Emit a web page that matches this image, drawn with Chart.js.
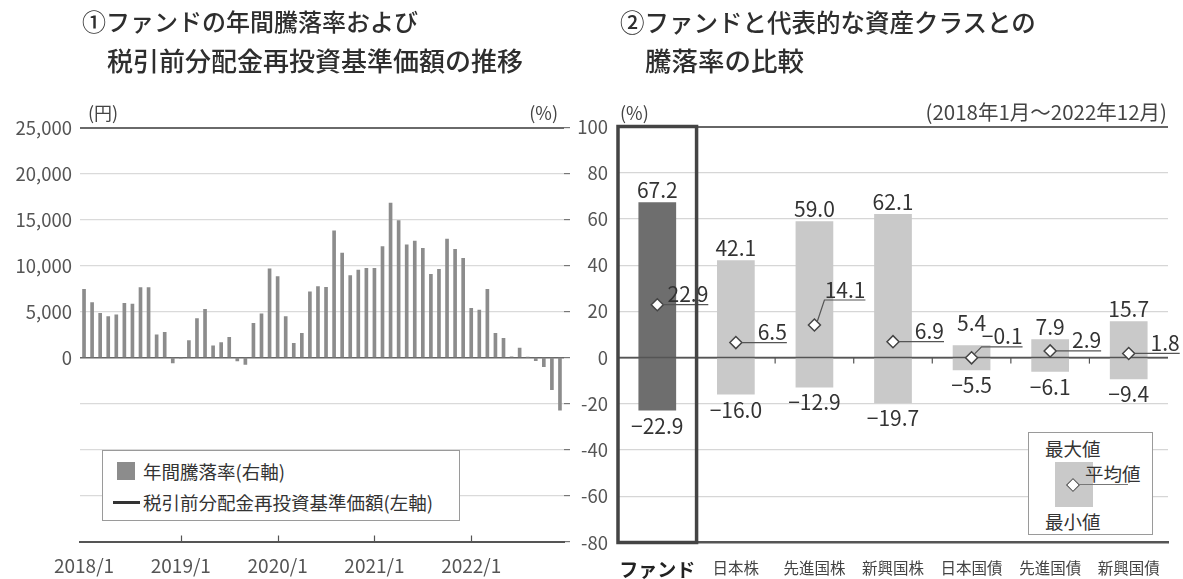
<!DOCTYPE html>
<html lang="ja">
<head>
<meta charset="utf-8">
<script src="https://cdn.jsdelivr.net/npm/chart.js@4.4.1/dist/chart.umd.min.js"></script>
<style>
  html, body { margin: 0; padding: 0; background: #fff; }
  #page { position: relative; width: 1183px; height: 579px; overflow: hidden;
          font-family: "Noto Sans CJK JP", "Noto Sans", sans-serif; color: #333; }
  #page canvas { position: absolute; top: 0; }
  .t { position: absolute; white-space: nowrap; line-height: 1; }
  .title { font-weight: 500; color: #2e2e2e; }
  .unit { font-size: 18px; color: #444; }
  .legend { position: absolute; background: #fff; border: 1px solid #9a9a9a; box-sizing: border-box; }
  .lg { font-size: 18.5px; color: #333; }
</style>
</head>
<body>
<div id="page">
  <canvas id="trend" width="590" height="579" style="left:0"></canvas>
  <canvas id="compare" width="623" height="579" style="left:560px"></canvas>

  <div class="t title" style="left:82px;top:9px;font-size:24px">①ファンドの年間騰落率および</div>
  <div class="t title" style="left:107px;top:47px;font-size:26px">税引前分配金再投資基準価額の推移</div>
  <div class="t title" style="left:620px;top:10px;font-size:24.5px">②ファンドと代表的な資産クラスとの</div>
  <div class="t title" style="left:645px;top:47px;font-size:26.5px">騰落率の比較</div>

  <div class="t unit" style="left:88px;top:103px">(円)</div>
  <div class="t unit" style="right:625px;top:103px">(%)</div>
  <div class="t unit" style="left:620px;top:103px">(%)</div>
  <div class="t unit" style="right:16px;top:101px;font-size:20.5px">(2018年1月～2022年12月)</div>

  <div class="legend" style="left:102px;top:450px;width:358px;height:71px">
    <div style="position:absolute;left:14px;top:11px;width:18px;height:18px;background:#8c8c8c"></div>
    <div class="t lg" style="left:40px;top:11px">年間騰落率(右軸)</div>
    <div style="position:absolute;left:10px;top:50px;width:27px;height:3px;background:#333"></div>
    <div class="t lg" style="left:40px;top:42px">税引前分配金再投資基準価額(左軸)</div>
  </div>

  <div class="legend" style="left:1028px;top:432px;width:125px;height:103px">
    <div class="t lg" style="left:16px;top:6px">最大値</div>
    <div style="position:absolute;left:26px;top:29px;width:38px;height:45px;background:#c9c9c9"></div>
    <div style="position:absolute;left:50px;top:51px;width:49px;height:1px;background:#777"></div>
    <div style="position:absolute;left:39px;top:47px;width:8px;height:8px;background:#fff;border:1.5px solid #444;transform:rotate(45deg)"></div>
    <div class="t lg" style="left:56px;top:31px">平均値</div>
    <div class="t lg" style="left:16px;top:79px">最小値</div>
  </div>
</div>

<script>
const FONT = '"Noto Sans CJK JP", "Noto Sans", sans-serif';

// ---- chart 1: monthly 1-year return of the fund ----
const years = [2018, 2019, 2020, 2021, 2022];
const months = years.flatMap(yr => Array.from({ length: 12 }, (_, m) => `${yr}/${m + 1}`));

const annualReturn = [
    29.7, 23.9, 19.3, 17.8, 18.6, 23.6, 23.3, 30.4, 30.4, 9.9, 11.0, -2.3,
    -0.3, 7.4, 17.0, 21.0, 5.1, 6.5, 8.8, -1.5, -3.0, 14.9, 19.0, 38.6,
    35.2, 17.8, 6.2, 10.6, 28.6, 30.9, 30.6, 55.1, 45.5, 35.7, 38.1, 38.8,
    38.8, 48.3, 67.2, 59.6, 49.0, 50.7, 47.5, 36.2, 38.4, 51.6, 47.1, 43.2,
    21.4, 20.7, 29.7, 10.6, 8.4, 0.3, 4.1, 0.2, -1.3, -3.9, -14.0, -22.9
];

// ---- chart 2: fund vs asset classes ----
const assetClasses = ['ファンド', '日本株', '先進国株', '新興国株', '日本国債', '先進国債', '新興国債'];
const maxReturn = [67.2, 42.1, 59.0, 62.1, 5.4, 7.9, 15.7];
const meanReturn = [22.9, 6.5, 14.1, 6.9, -0.1, 2.9, 1.8];
const minReturn = [-22.9, -16.0, -12.9, -19.7, -5.5, -6.1, -9.4];

// label placement tweaks (pixels), not data
const meanLabelRise = [0, 0, 25, 0, 11, 0, 0];
const maxLabelLift = [0, 0, 0, 0, 10, 0, 0];

const fmt = v => (v < 0 ? '\u2212' : '') + Math.abs(v).toFixed(1);

const yearTicks = {
    id: 'yearTicks',
    afterDraw(chart) {
        const { ctx, chartArea, scales: { x } } = chart;
        ctx.save();
        ctx.strokeStyle = '#555';
        ctx.lineWidth = 1.2;
        months.forEach((m, i) => {
            if (i === 0 || !m.endsWith('/1')) return;
            const px = Math.round(x.getPixelForValue(i)) + 0.5;
            ctx.beginPath();
            ctx.moveTo(px, chartArea.bottom);
            ctx.lineTo(px, chartArea.bottom - 6);
            ctx.stroke();
        });
        ctx.restore();
    }
};

new Chart(document.getElementById('trend'), {
    type: 'bar',
    data: {
        labels: months,
        datasets: [{ label: '年間騰落率(右軸)', data: annualReturn, yAxisID: 'y1', backgroundColor: '#8c8c8c', barThickness: 3 }]
    },
    options: {
        responsive: false,
        animation: false,
        layout: { padding: { top: 127.7, right: 20, bottom: 0, left: 0 } },
        plugins: { legend: { display: false }, tooltip: { enabled: false } },
        scales: {
            x: {
                grid: { display: false, drawTicks: false },
                border: { color: '#555', width: 2 },
                ticks: {
                    autoSkip: false, maxRotation: 0, padding: 13, color: '#555',
                    font: { family: FONT, size: 19 },
                    callback: (v, i) => months[i].endsWith('/1') ? months[i] : ''
                },
                afterFit: s => { s.height = 37.5; }
            },
            y: {
                position: 'left', min: -20000, max: 25000,
                ticks: {
                    stepSize: 5000, padding: 8, color: '#555',
                    font: { family: FONT, size: 18.5 },
                    callback: v => v < 0 ? '' : v.toLocaleString('en-US')
                },
                grid: {
                    drawTicks: false,
                    color: c => c.tick.value === 25000 ? '#6a6a6a' : c.tick.value <= -20000 ? '#555' : c.tick.value === 0 ? '#666' : '#dadada',
                    lineWidth: c => c.tick.value === 25000 ? 2 : c.tick.value === 0 ? 1.5 : c.tick.value <= -20000 ? 2 : 1.2
                },
                border: { display: false },
                afterFit: s => { s.width = 80; }
            },
            y1: {
                position: 'right', min: -80, max: 100,
                ticks: { stepSize: 20, display: false },
                grid: { drawOnChartArea: false, tickLength: 6, color: '#777', lineWidth: 1.2 },
                border: { display: false },
                afterFit: s => { s.width = 6; }
            }
        }
    },
    plugins: [yearTicks]
});

const compareLabels = {
    id: 'compareLabels',
    afterDatasetDraw(chart, args) {
        if (args.index !== 0) return;
        // zero line over the bars but under the diamonds
        const { ctx, chartArea: a, scales: { x, y } } = chart;
        const y0 = y.getPixelForValue(0);
        const half = (x.getPixelForValue(1) - x.getPixelForValue(0)) / 2;
        ctx.save();
        ctx.strokeStyle = '#555';
        ctx.lineWidth = 1.5;
        ctx.beginPath();
        ctx.moveTo(a.left, y0);
        ctx.lineTo(a.right, y0);
        ctx.stroke();
        ctx.lineWidth = 1.2;
        for (let i = 1; i < assetClasses.length; i++) {
            const px = x.getPixelForValue(i) - half;
            ctx.beginPath();
            ctx.moveTo(px, y0);
            ctx.lineTo(px, y0 + 6);
            ctx.stroke();
        }
        ctx.restore();
    },
    afterDatasetsDraw(chart) {
        const { ctx, scales: { x, y } } = chart;
        ctx.save();
        ctx.font = `21px ${FONT}`;
        ctx.fillStyle = '#333';
        ctx.strokeStyle = '#555';
        ctx.lineWidth = 1.2;
        ctx.textBaseline = 'alphabetic';
        assetClasses.forEach((c, i) => {
            const px = x.getPixelForValue(i);
            ctx.textAlign = 'center';
            ctx.fillText(fmt(maxReturn[i]), px, y.getPixelForValue(maxReturn[i]) - 4 - maxLabelLift[i]);
            ctx.fillText(fmt(minReturn[i]), px, y.getPixelForValue(minReturn[i]) + 23);

            const my = y.getPixelForValue(meanReturn[i]);
            const ly = my - meanLabelRise[i];
            ctx.beginPath();
            if (meanLabelRise[i]) {
                ctx.moveTo(px + 3, my - 4);
                ctx.lineTo(px + 10, ly);
            } else {
                ctx.moveTo(px + 6, ly);
            }
            ctx.lineTo(px + 51, ly);
            ctx.stroke();
            ctx.textAlign = 'right';
            ctx.fillText(fmt(meanReturn[i]), px + 51, ly - 2.5);
        });
        ctx.restore();
    },
    afterDraw(chart) {
        // frame around the fund column
        const { ctx, chartArea: a, scales: { x } } = chart;
        const right = (x.getPixelForValue(0) + x.getPixelForValue(1)) / 2;
        ctx.save();
        ctx.strokeStyle = '#444';
        ctx.lineWidth = 3.5;
        ctx.strokeRect(a.left, a.top, right - a.left, a.bottom - a.top);
        ctx.restore();
    }
};

new Chart(document.getElementById('compare'), {
    type: 'bar',
    data: {
        labels: assetClasses,
        datasets: [
            {
                label: 'range',
                data: assetClasses.map((_, i) => [minReturn[i], maxReturn[i]]),
                backgroundColor: assetClasses.map((_, i) => i === 0 ? '#6e6e6e' : '#c9c9c9'),
                barPercentage: 0.48, categoryPercentage: 1, order: 1
            },
            {
                type: 'line', label: 'mean', data: meanReturn, showLine: false, order: 0,
                pointStyle: 'rectRot', pointRadius: 6, pointBackgroundColor: '#fff',
                pointBorderColor: '#444', pointBorderWidth: 1.5
            }
        ]
    },
    options: {
        responsive: false,
        animation: false,
        layout: { padding: { top: 126.5, right: 15, bottom: 0, left: 0 } },
        plugins: { legend: { display: false }, tooltip: { enabled: false } },
        scales: {
            x: {
                grid: { display: false, drawTicks: false },
                border: { color: '#555', width: 2.5 },
                ticks: {
                    autoSkip: false, minRotation: 0, maxRotation: 0, padding: 16,
                    color: c => c.index === 0 ? '#222' : '#444',
                    font: c => c.index === 0 ? { family: FONT, size: 19, weight: 'bold' } : { family: FONT, size: 15.5 }
                },
                afterFit: s => { s.height = 36.5; }
            },
            y: {
                min: -80, max: 100,
                ticks: { stepSize: 20, padding: 10, color: '#555', font: { family: FONT, size: 18.5 } },
                grid: {
                    drawTicks: false,
                    color: c => c.tick.value === 100 ? '#666' : c.tick.value === 0 ? '#555' : c.tick.value === -80 ? 'rgba(0,0,0,0)' : '#d6d6d6',
                    lineWidth: c => c.tick.value === 100 ? 2 : c.tick.value === 0 ? 1.5 : 1.2
                },
                border: { display: false },
                afterFit: s => { s.width = 58; }
            }
        }
    },
    plugins: [compareLabels]
});
</script>
</body>
</html>
